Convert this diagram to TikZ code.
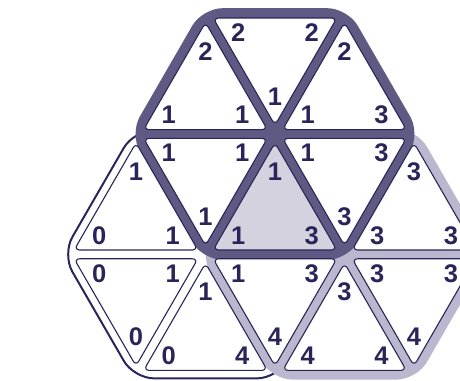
\documentclass[tikz,border=0pt]{standalone}
\usepackage{fontspec}
\setmainfont{Liberation Sans}
\usetikzlibrary{calc}
\definecolor{navy}{RGB}{42,37,89}
\definecolor{darkhex}{RGB}{95,90,132}
\definecolor{lighthex}{RGB}{186,183,206}
\definecolor{shade}{RGB}{212,210,223}
\tikzset{
  tileline/.style={draw=navy, line width=1.1pt, rounded corners=5.5pt},
  num/.style={text=navy, font=\bfseries\fontsize{25.5}{25.5}\selectfont, inner sep=0pt},
  hexshape/.style={rounded corners=20pt},
}
\newcommand\tritile[8]{%
  \coordinate (#1g) at ($0.33333*(#2)+0.33333*(#3)+0.33334*(#4)$);
  \path[tileline, fill=#8] ($(#1g)!0.89!(#2)$) -- ($(#1g)!0.89!(#3)$) -- ($(#1g)!0.89!(#4)$) -- cycle;
  \node[num] (#1a) at ($(#2)!0.47!(#1g)$) {#5};
  \node[num] (#1b) at ($(#3)!0.47!(#1g)$) {#6};
  \node[num] (#1c) at ($(#4)!0.47!(#1g)$) {#7};
}
\newcommand\hexpath[8]{%
  ($(#1)!#8!(#2)$) -- ($(#1)!#8!(#3)$) -- ($(#1)!#8!(#4)$) -- ($(#1)!#8!(#5)$) -- ($(#1)!#8!(#6)$) -- ($(#1)!#8!(#7)$) -- cycle
}
\begin{document}
\begin{tikzpicture}[x=1pt,y=-1pt]
\useasboundingbox (0,0) rectangle (460,380);
\clip (0,0) rectangle (460,380);
\coordinate (A1) at (205.5,13.62);
\coordinate (A2) at (344.5,13.62);
\coordinate (B0) at (136,134);
\coordinate (B1) at (275,134);
\coordinate (B2) at (414,134);
\coordinate (C0) at (66.5,254.38);
\coordinate (C1) at (205.5,254.38);
\coordinate (C2) at (344.5,254.38);
\coordinate (C3) at (483.5,254.38);
\coordinate (D0) at (136,374.76);
\coordinate (D1) at (275,374.76);
\coordinate (D2) at (414,374.76);
% hexagons
\path[hexshape, fill=white, draw=navy, line width=2pt] \hexpath{C1}{B0}{B1}{C2}{D1}{D0}{C0}{1.03};
\path[hexshape, fill=lighthex] \hexpath{C2}{B1}{B2}{C3}{D2}{D1}{C1}{1.04};
\path[hexshape, fill=darkhex] \hexpath{B1}{A1}{A2}{B2}{C2}{C1}{B0}{1.045};
% tiles of the top hexagon
\tritile{T1}{A1}{A2}{B1}{2}{2}{1}{white}
\tritile{T2}{A1}{B0}{B1}{2}{1}{1}{white}
\tritile{T3}{A2}{B1}{B2}{2}{1}{3}{white}
\tritile{T4}{B0}{B1}{C1}{1}{1}{1}{white}
\tritile{T5}{B1}{C1}{C2}{1}{1}{3}{shade}
\tritile{T6}{B1}{B2}{C2}{1}{3}{3}{white}
% tiles of the lower left hexagon
\tritile{T7}{B0}{C0}{C1}{1}{0}{1}{white}
\tritile{T8}{C0}{C1}{D0}{0}{1}{0}{white}
\tritile{T9}{C1}{D0}{D1}{1}{0}{4}{white}
\tritile{T10}{C1}{C2}{D1}{1}{3}{4}{white}
% tiles of the right hexagon
\tritile{T11}{B2}{C2}{C3}{3}{3}{3}{white}
\tritile{T12}{C2}{C3}{D2}{3}{3}{4}{white}
\tritile{T13}{C2}{D1}{D2}{3}{4}{4}{white}
\end{tikzpicture}
\end{document}
